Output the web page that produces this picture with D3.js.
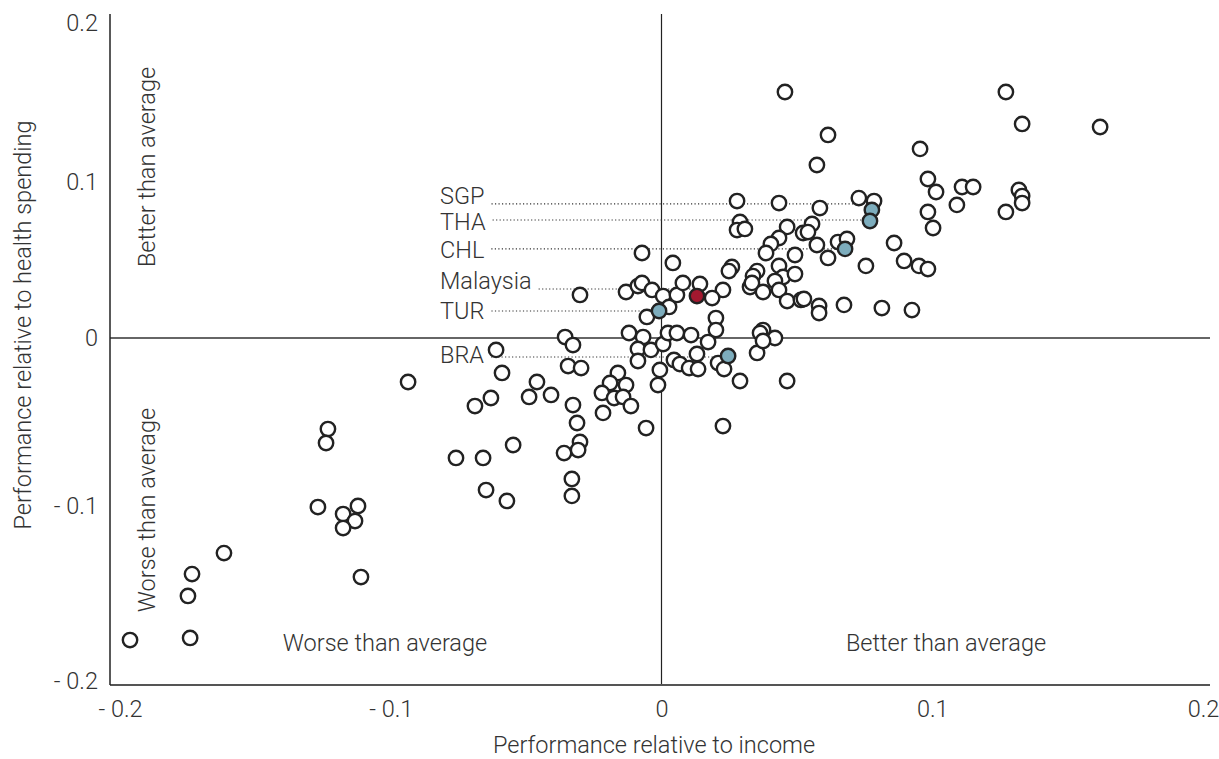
<!DOCTYPE html>
<html>
<head>
<meta charset="utf-8">
<script src="https://cdn.jsdelivr.net/npm/d3@7"></script>
<style>
  body { margin: 0; background: #fff; }
  svg { display: block; }
  text { font-family: Roboto, "Liberation Sans", Arial, sans-serif; font-weight: 300; fill: #333; }
</style>
</head>
<body>
<svg id="chart" width="1219" height="759"></svg>
<script>
// performance relative to income (x) and relative to health spending (y)
const incomePerf = [
  0.0456, 0.1272, 0.1332, 0.1620, 0.0615, 0.0955, 0.0574, 0.0984, 0.1014, 0.1110,
  0.1151, 0.1320, 0.1332, 0.1332, 0.1272, 0.1091, 0.0984, 0.1003, 0.0279, 0.0434,
  0.0585, 0.0729, 0.0785, 0.0290, 0.0279, 0.0308, 0.0464, 0.0434, 0.0404, 0.0386,
  0.0556, 0.0523, 0.0541, 0.0574, 0.0493, 0.0615, 0.0652, 0.0685, 0.0859, 0.0755,
  0.0896, 0.0951, 0.0984, 0.0260, 0.0249, 0.0353, 0.0338, 0.0327, 0.0334, 0.0434,
  0.0449, 0.0493, 0.0419, 0.0434, 0.0375, 0.0464, 0.0515, 0.0526, 0.0582, 0.0582,
  0.0674, 0.0814, 0.0925, 0.0227, 0.0187, 0.0142, 0.0201, 0.0201, 0.0375, 0.0364,
  0.0419,
  -0.0072, 0.0042, -0.0301, -0.0131, -0.0087, -0.0072, -0.0035, 0.0006, 0.0028, -0.0054,
  0.0057, 0.0079, 0.0172, 0.0131, -0.0120, -0.0068, -0.0087, -0.0039, 0.0006, 0.0024,
  0.0057, 0.0109, -0.0087, -0.0006, -0.0013, 0.0046, 0.0068, 0.0102, 0.0135, 0.0209,
  0.0231, 0.0290, 0.0353, 0.0375, 0.0227, -0.0057, -0.0356, -0.0327, -0.0611, -0.0345,
  -0.0297, -0.0589, -0.0460, -0.0408, -0.0489, -0.0630, -0.0689, -0.0327, -0.0312, -0.0216,
  -0.0161, -0.0190, -0.0131, -0.0220, -0.0175, -0.0142, -0.0113, 0.0464,
  -0.0548, -0.0759, -0.0659, -0.0360, -0.0301, -0.0308, -0.0331, -0.0331, -0.0648, -0.0571,
  -0.0936, -0.1232, -0.1239, -0.1269, -0.1176, -0.1121, -0.1132, -0.1176, -0.1616, -0.1734,
  -0.1749, -0.1110, -0.1963, -0.1741
];
const spendingPerf = [
  0.1566, 0.1566, 0.1365, 0.1346, 0.1296, 0.1208, 0.1107, 0.1019, 0.0936, 0.0968,
  0.0968, 0.0949, 0.0910, 0.0865, 0.0808, 0.0853, 0.0808, 0.0705, 0.0878, 0.0865,
  0.0833, 0.0897, 0.0878, 0.0744, 0.0692, 0.0699, 0.0712, 0.0641, 0.0603, 0.0545,
  0.0731, 0.0673, 0.0679, 0.0596, 0.0532, 0.0513, 0.0615, 0.0635, 0.0609, 0.0462,
  0.0494, 0.0462, 0.0442, 0.0455, 0.0429, 0.0429, 0.0397, 0.0327, 0.0353, 0.0462,
  0.0391, 0.0410, 0.0365, 0.0308, 0.0295, 0.0237, 0.0244, 0.0250, 0.0205, 0.0160,
  0.0212, 0.0192, 0.0179, 0.0308, 0.0256, 0.0346, 0.0128, 0.0051, 0.0051, 0.0032,
  0.0000,
  0.0545, 0.0481, 0.0276, 0.0295, 0.0333, 0.0353, 0.0308, 0.0269, 0.0199, 0.0135,
  0.0276, 0.0353, -0.0024, -0.0095, 0.0032, 0.0006, -0.0065, -0.0071, -0.0036, 0.0032,
  0.0032, 0.0019, -0.0137, -0.0190, -0.0280, -0.0131, -0.0155, -0.0179, -0.0185, -0.0149,
  -0.0185, -0.0256, -0.0089, -0.0018, -0.0524, -0.0536, 0.0006, -0.0042, -0.0071, -0.0167,
  -0.0179, -0.0208, -0.0262, -0.0339, -0.0351, -0.0357, -0.0405, -0.0399, -0.0506, -0.0446,
  -0.0208, -0.0268, -0.0280, -0.0327, -0.0357, -0.0351, -0.0405, -0.0256,
  -0.0637, -0.0714, -0.0714, -0.0685, -0.0619, -0.0667, -0.0839, -0.0940, -0.0905, -0.0970,
  -0.0262, -0.0542, -0.0625, -0.1006, -0.1046, -0.1000, -0.1086, -0.1126, -0.1269, -0.1389,
  -0.1514, -0.1406, -0.1766, -0.1754
];

// labelled countries
const highlightNames = ["SGP", "THA", "CHL", "Malaysia", "TUR", "BRA"];
const highlightIncome = [0.0777, 0.0770, 0.0678, 0.0131, -0.0009, 0.0246];
const highlightSpending = [0.0821, 0.0750, 0.0571, 0.0269, 0.0173, -0.0107];
const highlightGroup = ["peer", "peer", "peer", "focus", "peer", "peer"];

const tickValues = [-0.2, -0.1, 0, 0.1, 0.2];

// layout
const plot = {left: 110, right: 1210, top: 14, bottom: 685};
const fontSize = 23.5;
const labelX = 440;
const lineDy = {SGP: -6, THA: -1, CHL: 0, Malaysia: -7, TUR: 0, BRA: 1};
const textDy = {SGP: -8, THA: 2, CHL: 1, Malaysia: -8, TUR: 0, BRA: -2};
const fills = {peer: "#7dadbd", focus: "#a3182f"};

const svg = d3.select("#chart");

const x = d3.scaleLinear().domain([-0.2, 0.2]).range([120, 1203]);
// the printed axis is not evenly spaced, so follow each tick
const y = d3.scaleLinear().domain(tickValues).range([681, 506, 338, 182, 23]);

const fmt = d => d === 0 ? "0" : (d < 0 ? "- " + Math.abs(d) : String(d));

// frame and zero lines
svg.append("line")
  .attr("x1", plot.left).attr("x2", plot.right)
  .attr("y1", y(0)).attr("y2", y(0))
  .attr("stroke", "#666").attr("stroke-width", 2);
svg.append("line")
  .attr("x1", x(0)).attr("x2", x(0))
  .attr("y1", plot.top).attr("y2", plot.bottom)
  .attr("stroke", "#222").attr("stroke-width", 1.2);
svg.append("line")
  .attr("x1", plot.left).attr("x2", plot.right)
  .attr("y1", plot.bottom).attr("y2", plot.bottom)
  .attr("stroke", "#555").attr("stroke-width", 2);
svg.append("line")
  .attr("x1", plot.left).attr("x2", plot.left)
  .attr("y1", plot.top).attr("y2", plot.bottom)
  .attr("stroke", "#222").attr("stroke-width", 1.5);

// axes
const xAxis = svg.append("g")
  .attr("transform", `translate(0,${plot.bottom})`)
  .call(d3.axisBottom(x).tickValues(tickValues).tickFormat(fmt).tickSize(0).tickPadding(15));
const yAxis = svg.append("g")
  .attr("transform", `translate(${plot.left},0)`)
  .call(d3.axisLeft(y).tickValues(tickValues).tickFormat(fmt).tickSize(0).tickPadding(12));
[xAxis, yAxis].forEach(g => {
  g.select(".domain").remove();
  g.selectAll("text").attr("font-size", fontSize).attr("font-family", null).attr("fill", "#333");
});

// axis titles
svg.append("text")
  .attr("x", 654).attr("y", 753)
  .attr("text-anchor", "middle").attr("font-size", fontSize)
  .text("Performance relative to income");
svg.append("text")
  .attr("transform", "translate(31,325) rotate(-90)")
  .attr("text-anchor", "middle").attr("font-size", fontSize)
  .text("Performance relative to health spending");

// quadrant notes
const notes = [
  {t: "Better than average", x: 155, y: 167, r: true},
  {t: "Worse than average", x: 155, y: 510, r: true},
  {t: "Worse than average", x: 385, y: 651, r: false},
  {t: "Better than average", x: 946, y: 651, r: false}
];
notes.forEach(n => {
  svg.append("text")
    .attr("transform", n.r ? `translate(${n.x},${n.y}) rotate(-90)` : `translate(${n.x},${n.y})`)
    .attr("text-anchor", "middle").attr("font-size", fontSize)
    .text(n.t);
});

// label leaders
const hl = highlightNames.map((name, i) => ({
  name, x: highlightIncome[i], y: highlightSpending[i], group: highlightGroup[i]
}));

const lab = svg.append("g");
hl.forEach(d => {
  const ly = y(d.y) + lineDy[d.name];
  const t = lab.append("text")
    .attr("x", labelX).attr("y", ly + textDy[d.name] + 8)
    .attr("font-size", fontSize)
    .text(d.name);
  const w = t.node().getComputedTextLength();
  lab.append("line")
    .attr("x1", labelX + w + 7).attr("x2", x(d.x))
    .attr("y1", ly).attr("y2", ly)
    .attr("stroke", "#333").attr("stroke-width", 1.1)
    .attr("stroke-dasharray", "1.2,2.3");
});

// points
const pts = incomePerf.map((v, i) => ({x: v, y: spendingPerf[i]}));
svg.append("g").selectAll("circle")
  .data(pts)
  .join("circle")
  .attr("cx", d => x(d.x))
  .attr("cy", d => y(d.y))
  .attr("r", 7.2)
  .attr("fill", "#fff")
  .attr("stroke", "#222")
  .attr("stroke-width", 2.4);

svg.append("g").selectAll("circle")
  .data(hl)
  .join("circle")
  .attr("cx", d => x(d.x))
  .attr("cy", d => y(d.y))
  .attr("r", 7.2)
  .attr("fill", d => fills[d.group])
  .attr("stroke", "#222")
  .attr("stroke-width", 2.4);
</script>
</body>
</html>
